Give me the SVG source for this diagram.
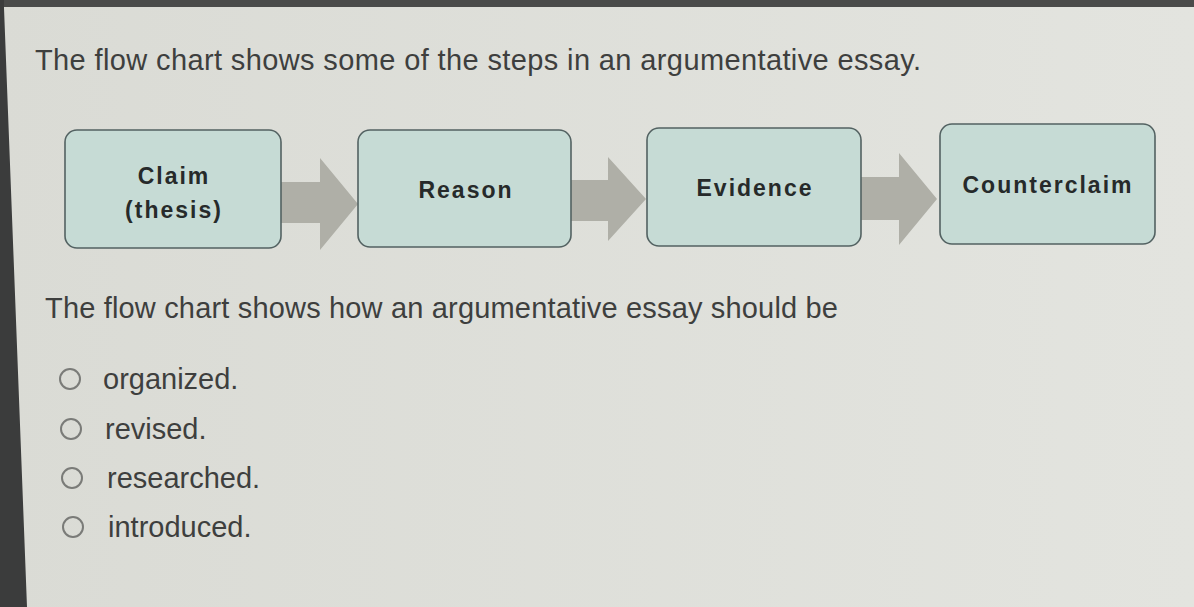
<svg xmlns="http://www.w3.org/2000/svg" width="1194" height="607" viewBox="0 0 1194 607">
<style>
.q{font-family:"Liberation Sans",Arial,sans-serif;font-size:29px;fill:#3e3f3e}
.box{fill:#c6dbd5;stroke:#536262;stroke-width:1.6}
.lbl{font-family:"Liberation Sans",Arial,sans-serif;font-size:23px;font-weight:bold;fill:#262a2a;letter-spacing:2px;text-anchor:middle}
.arr{fill:#afafa7}
.radio{fill:none;stroke:#7a7b78;stroke-width:2}
</style>
<defs>
<linearGradient id="bg" x1="0" y1="0" x2="1" y2="0">
<stop offset="0" stop-color="#dadbd5"/>
<stop offset="1" stop-color="#e3e4df"/>
</linearGradient>
</defs>
<rect width="1194" height="607" fill="url(#bg)"/>
<rect width="1194" height="7" fill="#4a4b4a"/>
<polygon points="0,0 4,0 4,8 27,607 0,607" fill="#3b3c3c"/>

<text class="q" x="35" y="70" textLength="886" lengthAdjust="spacing">The flow chart shows some of the steps in an argumentative essay.</text>

<g id="connectors">
<polygon class="arr" points="281,182 320,182 320,158 358,204 320,250 320,223 281,223"/>
<polygon class="arr" points="571,180 608,180 608,157 646,199 608,241 608,221 571,221"/>
<polygon class="arr" points="861,177 899,177 899,153 937,199 899,245 899,220 861,220"/>
</g>

<g id="claim">
<rect class="box" x="65" y="130" width="216" height="118" rx="12"/>
<text class="lbl" x="174" y="184">Claim</text>
<text class="lbl" x="174" y="218">(thesis)</text>
</g>
<g id="reason">
<rect class="box" x="358" y="130" width="213" height="117" rx="12"/>
<text class="lbl" x="466" y="198">Reason</text>
</g>
<g id="evidence">
<rect class="box" x="647" y="128" width="214" height="118" rx="12"/>
<text class="lbl" x="755" y="196">Evidence</text>
</g>
<g id="counterclaim">
<rect class="box" x="940" y="124" width="215" height="120" rx="12"/>
<text class="lbl" x="1048" y="193">Counterclaim</text>
</g>

<text class="q" x="45" y="318" textLength="793" lengthAdjust="spacing">The flow chart shows how an argumentative essay should be</text>

<g id="options">
<circle class="radio" cx="70" cy="379" r="10"/>
<text class="q" x="103" y="389">organized.</text>
<circle class="radio" cx="71" cy="429" r="10"/>
<text class="q" x="105" y="439">revised.</text>
<circle class="radio" cx="72" cy="478" r="10"/>
<text class="q" x="107" y="488">researched.</text>
<circle class="radio" cx="73" cy="527" r="10"/>
<text class="q" x="108" y="537">introduced.</text>
</g>
</svg>
